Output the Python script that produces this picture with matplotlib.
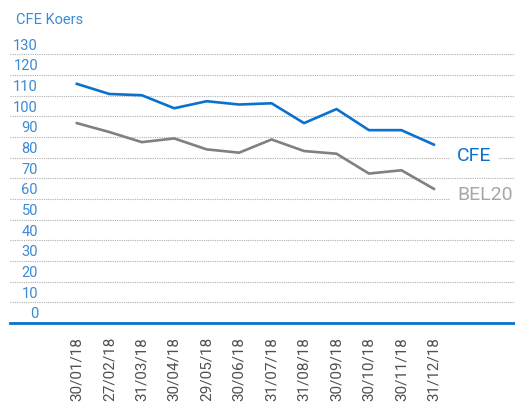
import matplotlib
matplotlib.use("Agg")
import matplotlib.pyplot as plt
from matplotlib.transforms import blended_transform_factory, ScaledTranslation

dates = ["30/01/18", "27/02/18", "31/03/18", "30/04/18", "29/05/18", "30/06/18",
         "31/07/18", "31/08/18", "30/09/18", "30/10/18", "30/11/18", "31/12/18"]
cfe = [115.7, 110.8, 110.2, 103.9, 107.3, 105.7, 106.3, 96.7, 103.5, 93.3, 93.3, 86.3]
bel20 = [96.7, 92.4, 87.5, 89.3, 84.0, 82.4, 88.8, 83.2, 81.9, 72.3, 73.9, 64.9]
yticks = list(range(0, 131, 10))

plt.rcParams["font.family"] = ["Roboto", "DejaVu Sans"]

blue = "#0a72cc"
label_blue = "#3a8ad6"
grey = "#808080"

fig = plt.figure(figsize=(5.15, 4.03), dpi=100)
ax = fig.add_axes([10 / 515, 1 - 323 / 403, 505 / 515, (323 - 54.3) / 403])

x = list(range(len(dates)))
ax.plot(x, cfe, color=blue, lw=1.9, zorder=3)
ax.plot(x, bel20, color=grey, lw=1.9, zorder=3)

ax.set_xlim(-2.06, 13.5)
ax.set_ylim(0, 130)

# dotted grid
for v in yticks[1:]:
    ax.axhline(v, color="#b0b0b0", lw=0.8, ls=(0, (1, 1)), zorder=1)

for s in ["top", "right", "left"]:
    ax.spines[s].set_visible(False)
ax.spines["bottom"].set_color(blue)
ax.spines["bottom"].set_linewidth(2)

ax.set_yticks([])
ax.set_xticks(x)
ax.set_xticklabels(dates, rotation=90, fontsize=11, color="#505050", va="top")
ax.tick_params(axis="x", length=0, pad=10)

# y labels sit above their gridlines
tr = blended_transform_factory(ax.transAxes, ax.transData) + ScaledTranslation(0, 0.087, fig.dpi_scale_trans)
for v in yticks:
    ax.text(28 / 505, v, str(v), transform=tr, ha="right", va="center",
            fontsize=10.5, color=label_blue)

fig.text(16 / 515, 1 - 20 / 403, "CFE Koers", fontsize=10.5, color=label_blue, va="center")

box = dict(facecolor="white", edgecolor="none", pad=5)
ax.text(11.71, 80.8, "CFE", fontsize=14, color=blue, va="center", ha="left", bbox=box, zorder=4)
ax.text(11.71, 62.1, "BEL20", fontsize=14, color="#a6a6a6", va="center", ha="left", bbox=box, zorder=4)

fig.savefig("out.png", dpi=100)
